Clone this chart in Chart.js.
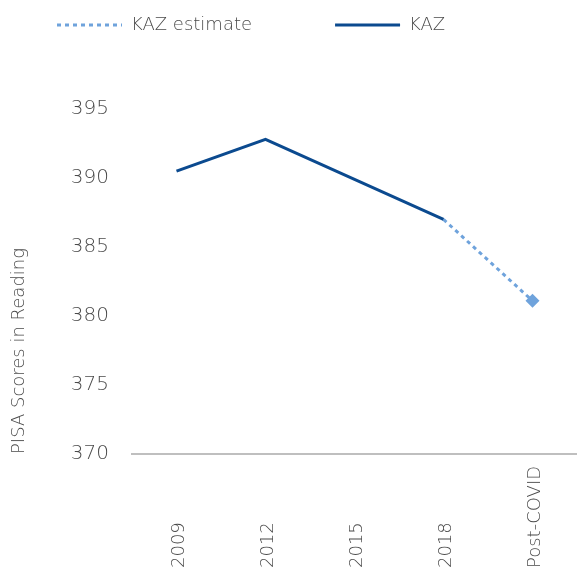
<!DOCTYPE html>
<html>
<head>
<meta charset="utf-8">
<script src="https://cdn.jsdelivr.net/npm/chart.js@4"></script>
<style>
  html, body { margin: 0; padding: 0; background: #fff; overflow: hidden; }
  canvas { display: block; }
</style>
</head>
<body>
<canvas id="chart-1" width="577" height="571"></canvas>
<script>
// data
var categories = ["2009", "2012", "2015", "2018", "Post-COVID"];
var kaz = [390.5, 392.8, 389.9, 387.0, null];
var kazEstimate = [null, null, null, 387.0, 381.1];
var yTicks = [370, 375, 380, 385, 390, 395];

var darkBlue = "#0B4A8F";
var lightBlue = "#6FA3DC";
var textGrey = "#4A4A4A";
var fontFam = "'DejaVu Sans', sans-serif";
var fontW = 200;

// the plot runs right up to the canvas edge, so no extra room for the marker
Chart.LineController.prototype.getMaxOverflow = function () { return 0; };

// legend drawn on top, same look as the original
var topLegend = {
    id: "topLegend",
    afterDraw: function (chart) {
        var ctx = chart.ctx;
        var items = [
            { text: "KAZ estimate", color: lightBlue, dash: [4, 4] },
            { text: "KAZ", color: darkBlue, dash: [] }
        ];
        var x = 57, y = 25, lineW = 65;
        ctx.save();
        ctx.font = fontW + " 18px " + fontFam;
        ctx.textBaseline = "middle";
        ctx.textAlign = "left";
        items.forEach(function (it) {
            ctx.beginPath();
            ctx.setLineDash(it.dash);
            ctx.strokeStyle = it.color;
            ctx.lineWidth = 3;
            ctx.moveTo(x, y);
            ctx.lineTo(x + lineW, y);
            ctx.stroke();
            ctx.setLineDash([]);
            ctx.fillStyle = textGrey;
            ctx.fillText(it.text, x + lineW + 9, y);
            x += lineW + 9 + ctx.measureText(it.text).width + 83;
        });
        ctx.restore();
    }
};

// x labels: rotated, anchored at the bottom
var bottomLabels = {
    id: "bottomLabels",
    afterDraw: function (chart) {
        var ctx = chart.ctx;
        var xs = chart.scales.x;
        ctx.save();
        ctx.font = fontW + " 18px " + fontFam;
        ctx.fillStyle = textGrey;
        ctx.textAlign = "left";
        ctx.textBaseline = "middle";
        categories.forEach(function (lab, i) {
            var px = xs.getPixelForTick(i);
            ctx.save();
            ctx.translate(px + 3, chart.height - 3);
            ctx.rotate(-Math.PI / 2);
            ctx.fillText(lab, 0, 0);
            ctx.restore();
        });
        ctx.restore();
    }
};

var ctx_1 = document.getElementById("chart-1");
var myChart = new Chart(ctx_1, {
    type: "line",
    data: {
        labels: categories,
        datasets: [{
            label: "KAZ",
            data: kaz,
            borderColor: darkBlue,
            backgroundColor: darkBlue,
            borderWidth: 3,
            pointRadius: 0,
            tension: 0
        }, {
            label: "KAZ estimate",
            data: kazEstimate,
            borderColor: lightBlue,
            backgroundColor: lightBlue,
            borderWidth: 3,
            borderDash: [4, 4],
            pointStyle: "rectRot",
            pointRadius: [0, 0, 0, 0, 7],
            pointBorderWidth: 0,
            tension: 0
        }]
    },
    options: {
        responsive: false,
        animation: false,
        layout: {
            padding: { top: 109, right: 0, bottom: 117, left: 0 }
        },
        plugins: {
            legend: { display: false },
            tooltip: { enabled: false }
        },
        scales: {
            x: {
                offset: true,
                grid: { display: false, drawTicks: false },
                border: { display: true, color: "#BFBFBF", width: 2 },
                ticks: { display: false }
            },
            y: {
                min: 370,
                max: 395,
                afterBuildTicks: function (scale) {
                    scale.ticks = yTicks.map(function (v) { return { value: v }; });
                },
                afterFit: function (scale) {
                    scale.width = 132;
                },
                grid: { display: false, drawTicks: false },
                border: { display: false },
                ticks: {
                    padding: 23,
                    color: textGrey,
                    font: { family: fontFam, size: 20, weight: fontW }
                },
                title: {
                    display: true,
                    text: "PISA Scores in Reading",
                    align: "start",
                    color: textGrey,
                    font: { family: fontFam, size: 18, weight: fontW },
                    padding: { top: 9, bottom: 0 }
                }
            }
        }
    },
    plugins: [topLegend, bottomLabels]
});
</script>
</body>
</html>
